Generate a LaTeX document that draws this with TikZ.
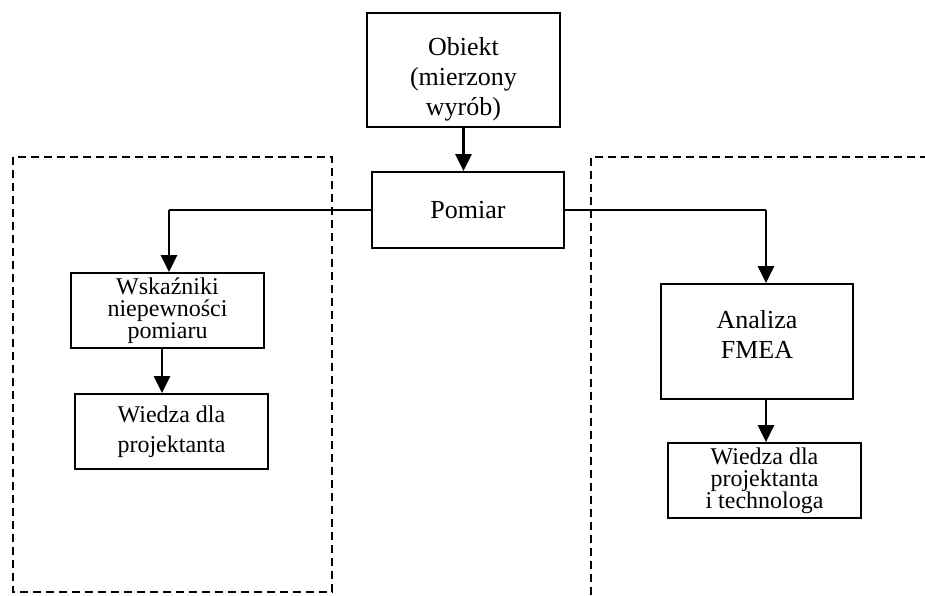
\documentclass[tikz,border=0pt]{standalone}
\usepackage{fontspec}
\setmainfont{Liberation Serif}
\usetikzlibrary{arrows.meta}
\begin{document}
\begin{tikzpicture}[x=1pt,y=-1pt,
  box/.style={draw,line width=1.8pt,inner sep=0pt,align=center},
  conn/.style={line width=1.3pt},
  arr/.style={line width=2.4pt,-{Triangle[length=17pt,width=16pt]}},
  dbox/.style={draw,line width=1.6pt,dash pattern=on 8pt off 5pt},
  bigtxt/.style={font=\fontsize{26}{30}\selectfont},
  midtxt/.style={font=\fontsize{24}{30}\selectfont},
  tighttxt/.style={font=\fontsize{24}{22}\selectfont}]
\useasboundingbox (0,0) rectangle (925,595);
\fill[white] (0,0) rectangle (925,595);
% dashed regions
\draw[dbox] (13,157) rectangle (332,592);
\draw[dbox] (591,595) -- (591,157) -- (925,157);
% nodes
\node[box,minimum width=193pt,minimum height=114pt] (obiekt) at (463.5,70) {};
\node[bigtxt,align=center] (obiekttxt) at (463.5,79) {Obiekt\\(mierzony\\wyrób)};
\node[box,bigtxt,minimum width=192pt,minimum height=76pt] (pomiar) at (468,210) {Pomiar};
\node[box,tighttxt,minimum width=193pt,minimum height=75pt] (wsk) at (167.5,310.5) {Wskaźniki\\niepewności\\pomiaru};
\node[box,midtxt,minimum width=193pt,minimum height=75pt] (wiedzaL) at (171.5,431.5) {Wiedza dla\\projektanta};
\node[box,minimum width=192pt,minimum height=115pt] (analiza) at (757,341.5) {};
\node[bigtxt,align=center] (analizatxt) at (757,334) {Analiza\\FMEA};
\node[box,tighttxt,minimum width=193pt,minimum height=75pt] (wiedzaR) at (764.5,480.5) {Wiedza dla\\projektanta\\i technologa};
% corner points of the connectors
\coordinate (cL) at ([xshift=1.5pt]pomiar.west -| wsk.north);
\coordinate (cR) at ([xshift=9pt]pomiar.east -| analiza.north);
% connectors
\draw[arr] (obiekt.south) -- (pomiar.north -| obiekt.south);
\draw[conn] (pomiar.west) -- (cL);
\draw[arr] (cL) -- (cL |- wsk.north);
\draw[arr] ([xshift=-5.5pt]wsk.south) -- ([xshift=-5.5pt]wsk.south |- wiedzaL.north);
\draw[conn] (pomiar.east) -- (cR);
\draw[arr] (cR) -- (cR |- analiza.north);
\draw[arr] ([xshift=9pt]analiza.south) -- ([xshift=9pt]analiza.south |- wiedzaR.north);
\end{tikzpicture}
\end{document}
